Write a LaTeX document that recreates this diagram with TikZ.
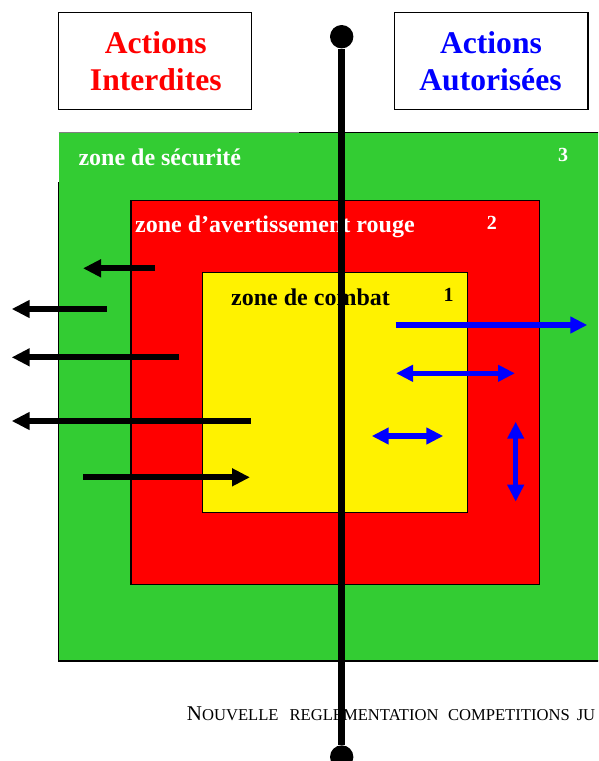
\documentclass[tikz,border=0pt]{standalone}
\usepackage{fontspec}
\setmainfont{Liberation Serif}
\usepackage{tikz}
\usetikzlibrary{arrows.meta,positioning}
\definecolor{vertzone}{RGB}{51,204,51}

\begin{document}
\begin{tikzpicture}[
x=1pt, y=-1pt,
titre/.style={font=\bfseries\fontsize{31.6}{36}\selectfont, anchor=base, inner sep=0pt},
zonetxt/.style={font=\bfseries\fontsize{24}{28}\selectfont, anchor=base west, inner sep=0pt},
numtxt/.style={font=\bfseries\fontsize{20}{24}\selectfont, anchor=base west, inner sep=0pt},
boite/.style={draw, line width=1.3pt, minimum width=193.4pt, minimum height=96.6pt, inner sep=0pt},
bord/.style={line width=1.5pt},
interdit/.style={line width=6pt, ->, >={Triangle[length=18pt,width=17pt]}},
autorise/.style={blue, line width=5.5pt, >={Triangle[length=17pt,width=16pt]}},
poteau/.style={circle, fill, inner sep=0pt, minimum size=23.4pt}
]
    \useasboundingbox (0,0) rectangle (598,761);
    \clip (0,0) rectangle (598,761);

    % Zones
    \fill [vertzone] (58.5,132.7) rectangle (612,661);
    \draw [bord] (299,132.7) -- (612,132.7) (612,661) -- (58.5,661) -- (58.5,182);
    \draw [gray, line width=1pt] (58.5,132.7) -- (299,132.7);
    \draw [bord, fill=red] (131,200.3) rectangle (539.3,584.3);
    \draw [bord, fill=yellow] (202.7,272.7) rectangle (467.3,512.7);

    \node [zonetxt, white] (securite) at (78.3,165.7) {zone de sécurité};
    \node [numtxt, white] (trois) at (558,161.7) {3};
    \node [zonetxt, white] (avert) at (135,232.3) {zone d’avertissement rouge};
    \node [numtxt, white] (deux) at (486.7,229) {2};
    \node [zonetxt] (combat) at (231,305) {zone de combat};
    \node [numtxt] (un) at (443.3,301.7) {1};

    % Titles
    \node [boite] (gauche) at (155,61) {};
    \node [titre, red] (interdA) at (155.8,53.3) {Actions};
    \node [titre, red] (interdB) at (155.8,90) {Interdites};
    \node [boite] (droite) at (491.2,61) {};
    \node [titre, blue] (autorA) at (491,53.3) {Actions};
    \node [titre, blue] (autorB) at (490.5,90) {Autorisées};

    \node [anchor=base west, inner sep=0pt, font=\mdseries\fontsize{21}{24}\selectfont] (pied)
        at (186.7,720) {N{\fontsize{16.6}{20}\selectfont OUVELLE\hspace{11pt}REGLEMENTATION\hspace{9.5pt}COMPETITIONS\hspace{7pt}JU}};

    \draw
    (155,268.3) coordinate (A1)
    (83,268.3) coordinate (A2)
    (106.7,309) coordinate (B1)
    (11.7,309) coordinate (B2)
    (179,357.3) coordinate (C1)
    (11.7,357.3) coordinate (C2)
    (250.7,421) coordinate (D1)
    (11.7,421) coordinate (D2)
    (83,477.3) coordinate (E1)
    (250,477.3) coordinate (E2);

    \draw
    (395.7,325) coordinate (P1)
    (587.3,325) coordinate (P2)
    (396,373.3) coordinate (Q1)
    (515,373.3) coordinate (Q2)
    (371.7,436) coordinate (R1)
    (443.3,436) coordinate (R2)
    (515.7,421.7) coordinate (S1)
    (515.7,501.7) coordinate (S2);

    % Forbidden actions
    \draw [interdit] (A1) -- (A2);
    \draw [interdit] (B1) -- (B2);
    \draw [interdit] (C1) -- (C2);
    \draw [interdit] (D1) -- (D2);
    \draw [interdit] (E1) -- (E2);

    % Allowed actions
    \draw [autorise, ->] (P1) -- (P2);
    \draw [autorise, <->] (Q1) -- (Q2);
    \draw [autorise, <->] (R1) -- (R2);
    \draw [autorise, <->] (S1) -- (S2);

    % Pole
    \node [poteau] (haut) at (341.7,36.7) {};
    \node [poteau] (bas) at (341.7,757) {};
    \draw [line width=7.3pt] (haut) -- (bas);

\end{tikzpicture}
\end{document}
